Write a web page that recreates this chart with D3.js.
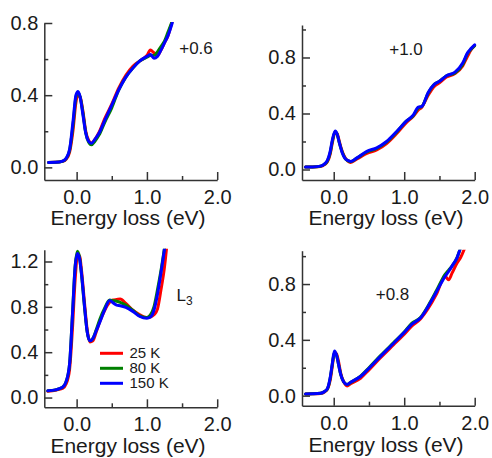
<!DOCTYPE html>
<html>
<head>
<meta charset="utf-8">
<script src="https://cdn.jsdelivr.net/npm/d3@7"></script>
<style>
  body { margin: 0; background: #fff; }
  text { font-family: "Liberation Sans", Arial, Helvetica, sans-serif; fill: #1a1a1a; }
  .axis path, .axis line { stroke: #333; stroke-width: 1.5; }
  .axis text { font-size: 20px; }
  .curve { fill: none; stroke-width: 3; stroke-linejoin: round; stroke-linecap: round; }
</style>
</head>
<body>
<script>
// series colours, drawn in this order (blue on top)
var temps = ['25 K', '80 K', '150 K'];
var colors = ['#f00', '#008000', '#00f'];

// panel "+0.6" (top left)
var energyA = [-0.40, -0.30, -0.20, -0.15, -0.10, -0.05, -0.01, 0.02, 0.05, 0.09, 0.13, 0.17, 0.21, 0.26, 0.32, 0.40, 0.50, 0.60, 0.70, 0.80, 0.90, 1.00, 1.05, 1.10, 1.15, 1.20, 1.25, 1.30, 1.36];
var redA   = [0.027, 0.028, 0.033, 0.045, 0.085, 0.21, 0.36, 0.40, 0.39, 0.31, 0.20, 0.15, 0.135, 0.155, 0.195, 0.27, 0.35, 0.44, 0.51, 0.56, 0.59, 0.62, 0.65, 0.635, 0.62, 0.65, 0.69, 0.73, 0.81];
var greenA = [0.027, 0.028, 0.034, 0.048, 0.095, 0.24, 0.39, 0.415, 0.39, 0.30, 0.19, 0.14, 0.125, 0.145, 0.18, 0.25, 0.33, 0.43, 0.50, 0.55, 0.59, 0.61, 0.62, 0.62, 0.64, 0.67, 0.70, 0.75, 0.81];
var blueA  = [0.027, 0.028, 0.035, 0.05, 0.10, 0.26, 0.40, 0.42, 0.39, 0.29, 0.19, 0.145, 0.133, 0.155, 0.19, 0.26, 0.345, 0.43, 0.50, 0.55, 0.59, 0.615, 0.625, 0.605, 0.615, 0.65, 0.69, 0.73, 0.80];

// panel "+1.0" (top right)
var energyB = [-0.40, -0.30, -0.19, -0.13, -0.09, -0.05, -0.02, 0.02, 0.05, 0.08, 0.12, 0.16, 0.20, 0.24, 0.33, 0.47, 0.61, 0.75, 0.89, 1.03, 1.13, 1.20, 1.25, 1.34, 1.43, 1.50, 1.60, 1.72, 1.83, 1.90, 1.95, 2.00];
var redB   = [0.017, 0.018, 0.022, 0.035, 0.055, 0.11, 0.19, 0.265, 0.255, 0.20, 0.13, 0.085, 0.06, 0.05, 0.075, 0.115, 0.14, 0.185, 0.255, 0.335, 0.38, 0.425, 0.445, 0.53, 0.595, 0.62, 0.66, 0.685, 0.74, 0.81, 0.855, 0.885];
var greenB = [0.017, 0.018, 0.023, 0.038, 0.06, 0.12, 0.20, 0.27, 0.25, 0.19, 0.125, 0.08, 0.063, 0.056, 0.082, 0.125, 0.15, 0.195, 0.265, 0.345, 0.385, 0.44, 0.45, 0.545, 0.61, 0.63, 0.67, 0.69, 0.75, 0.83, 0.86, 0.885];
var blueB  = [0.017, 0.018, 0.024, 0.04, 0.065, 0.13, 0.21, 0.275, 0.25, 0.19, 0.12, 0.08, 0.065, 0.058, 0.083, 0.13, 0.155, 0.20, 0.27, 0.345, 0.39, 0.445, 0.45, 0.55, 0.61, 0.63, 0.67, 0.695, 0.76, 0.835, 0.865, 0.89];

// panel "L3" (bottom left)
var energyC = [-0.41, -0.30, -0.20, -0.15, -0.10, -0.06, -0.02, 0.01, 0.04, 0.07, 0.11, 0.15, 0.19, 0.23, 0.28, 0.33, 0.40, 0.47, 0.52, 0.57, 0.62, 0.70, 0.80, 0.90, 1.00, 1.05, 1.10, 1.15, 1.20, 1.25, 1.28];
var redC   = [0.055, 0.065, 0.08, 0.12, 0.25, 0.60, 1.05, 1.24, 1.25, 1.12, 0.85, 0.60, 0.49, 0.50, 0.58, 0.67, 0.77, 0.84, 0.86, 0.865, 0.87, 0.83, 0.77, 0.73, 0.705, 0.71, 0.73, 0.78, 0.95, 1.15, 1.32];
var greenC = [0.059, 0.068, 0.09, 0.14, 0.30, 0.73, 1.17, 1.29, 1.24, 1.08, 0.81, 0.58, 0.50, 0.52, 0.60, 0.69, 0.79, 0.86, 0.855, 0.85, 0.84, 0.815, 0.77, 0.72, 0.705, 0.73, 0.80, 0.95, 1.12, 1.32, 1.45];
var blueC  = [0.059, 0.068, 0.09, 0.14, 0.30, 0.72, 1.16, 1.27, 1.23, 1.09, 0.82, 0.58, 0.50, 0.52, 0.59, 0.665, 0.775, 0.855, 0.835, 0.815, 0.81, 0.795, 0.76, 0.715, 0.70, 0.71, 0.77, 0.91, 1.10, 1.31, 1.45];

// panel "+0.8" (bottom right)
var energyD = [-0.40, -0.30, -0.19, -0.13, -0.09, -0.05, -0.02, 0.01, 0.04, 0.07, 0.10, 0.14, 0.19, 0.24, 0.38, 0.50, 0.66, 0.85, 0.99, 1.11, 1.23, 1.34, 1.46, 1.58, 1.63, 1.68, 1.75, 1.80, 1.86];
var redD   = [0.012, 0.013, 0.016, 0.027, 0.045, 0.11, 0.21, 0.31, 0.30, 0.24, 0.16, 0.10, 0.07, 0.085, 0.125, 0.185, 0.27, 0.365, 0.435, 0.50, 0.55, 0.625, 0.73, 0.855, 0.83, 0.88, 0.95, 0.99, 1.06];
var greenD = [0.012, 0.013, 0.017, 0.03, 0.048, 0.125, 0.225, 0.31, 0.29, 0.22, 0.15, 0.10, 0.08, 0.095, 0.14, 0.20, 0.285, 0.38, 0.45, 0.52, 0.56, 0.645, 0.755, 0.87, 0.90, 0.93, 0.99, 1.06, 1.14];
var blueD  = [0.012, 0.013, 0.017, 0.03, 0.05, 0.13, 0.23, 0.32, 0.29, 0.22, 0.15, 0.10, 0.08, 0.096, 0.137, 0.196, 0.28, 0.376, 0.448, 0.513, 0.556, 0.64, 0.747, 0.855, 0.89, 0.93, 0.99, 1.06, 1.14];

var xMajor = [0, 1, 2];
var xMinor = [0.5, 1.5];

var svg = d3.select('body').append('svg')
  .attr('width', 492)
  .attr('height', 458);

var panels = [
  { id: 'a', energy: energyA, series: [redA, greenA, blueA], box: [44.3, 217.2, 23, 180],
    xDom: [-0.46, 2.0], yDom: [-0.07, 0.8], yMajor: [0, 0.4, 0.8], yMinor: [0.2, 0.6],
    label: '+0.6', lx: 196, ly: 53.5, titleX: 128, titleY: 224.5 },
  { id: 'b', energy: energyB, series: [redB, greenB, blueB], box: [302, 474.7, 25, 180],
    xDom: [-0.45, 2.0], yDom: [-0.075, 1.032], yMajor: [0, 0.4, 0.8], yMinor: [0.2, 0.6, 1.0],
    label: '+1.0', lx: 406, ly: 54.5, titleX: 386, titleY: 225 },
  { id: 'c', energy: energyC, series: [redC, greenC, blueC], box: [44.3, 217.2, 249.7, 407.3],
    xDom: [-0.46, 2.0], yDom: [-0.086, 1.304], yMajor: [0, 0.4, 0.8, 1.2], yMinor: [0.2, 0.6, 1.0],
    label: 'L', lx: 176.5, ly: 300.5, titleX: 128, titleY: 452.5, legend: true },
  { id: 'd', energy: energyD, series: [redD, greenD, blueD], box: [302, 474.7, 250.7, 405.7],
    xDom: [-0.45, 2.0], yDom: [-0.072, 1.039], yMajor: [0, 0.4, 0.8], yMinor: [0.2, 0.6, 1.0],
    label: '+0.8', lx: 392.5, ly: 299.5, titleX: 386, titleY: 451.5 }
];

panels.forEach(function (p) {
  var left = p.box[0], right = p.box[1], top = p.box[2], bottom = p.box[3];
  var x = d3.scaleLinear().domain(p.xDom).range([left, right]);
  var y = d3.scaleLinear().domain(p.yDom).range([bottom, top]);
  var g = svg.append('g');

  // clip the curves to the plot box
  svg.append('defs').append('clipPath').attr('id', 'clip-' + p.id)
    .append('rect')
    .attr('x', left).attr('y', top - 1)
    .attr('width', right - left + 2).attr('height', bottom - top + 1);

  var line = d3.line()
    .x(function (d, i) { return x(p.energy[i]); })
    .y(function (d) { return y(d); })
    .curve(d3.curveMonotoneX);

  g.append('g').attr('clip-path', 'url(#clip-' + p.id + ')')
    .selectAll('path')
    .data(p.series)
    .enter()
    .append('path')
    .attr('class', 'curve')
    .attr('stroke', function (d, i) { return colors[i]; })
    .attr('d', line);

  // axes: major ticks labelled, minor ones plain, all pointing inwards
  g.append('g').attr('class', 'axis')
    .attr('transform', 'translate(0,' + bottom + ')')
    .call(d3.axisBottom(x).tickValues(xMajor).tickSize(-8).tickSizeOuter(0)
      .tickPadding(10).tickFormat(d3.format('.1f')));
  g.append('g').attr('class', 'axis')
    .attr('transform', 'translate(0,' + bottom + ')')
    .call(d3.axisBottom(x).tickValues(xMinor).tickSize(-4).tickFormat(''))
    .select('.domain').remove();

  g.append('g').attr('class', 'axis')
    .attr('transform', 'translate(' + left + ',0)')
    .call(d3.axisLeft(y).tickValues(p.yMajor).tickSize(-8).tickSizeOuter(0)
      .tickPadding(6).tickFormat(d3.format('.1f')));
  g.append('g').attr('class', 'axis')
    .attr('transform', 'translate(' + left + ',0)')
    .call(d3.axisLeft(y).tickValues(p.yMinor).tickSize(-4).tickFormat(''))
    .select('.domain').remove();

  g.append('text')
    .attr('x', p.titleX).attr('y', p.titleY)
    .attr('text-anchor', 'middle')
    .style('font-size', '21px')
    .text('Energy loss (eV)');

  var lab = g.append('text')
    .attr('x', p.lx).attr('y', p.ly)
    .attr('text-anchor', p.legend ? 'start' : 'middle')
    .style('font-size', '17px')
    .text(p.label);
  if (p.legend) {
    lab.append('tspan').attr('dy', 4).style('font-size', '12px').text('3');

    var leg = g.append('g');
    temps.forEach(function (t, i) {
      var ly = 353.3 + i * 15;
      leg.append('line')
        .attr('x1', 100).attr('x2', 123)
        .attr('y1', ly).attr('y2', ly)
        .attr('stroke', colors[i]).attr('stroke-width', 3);
      leg.append('text')
        .attr('x', 129.5).attr('y', ly + 4.3)
        .style('font-size', '15px')
        .text(t);
    });
  }
});
</script>
</body>
</html>
